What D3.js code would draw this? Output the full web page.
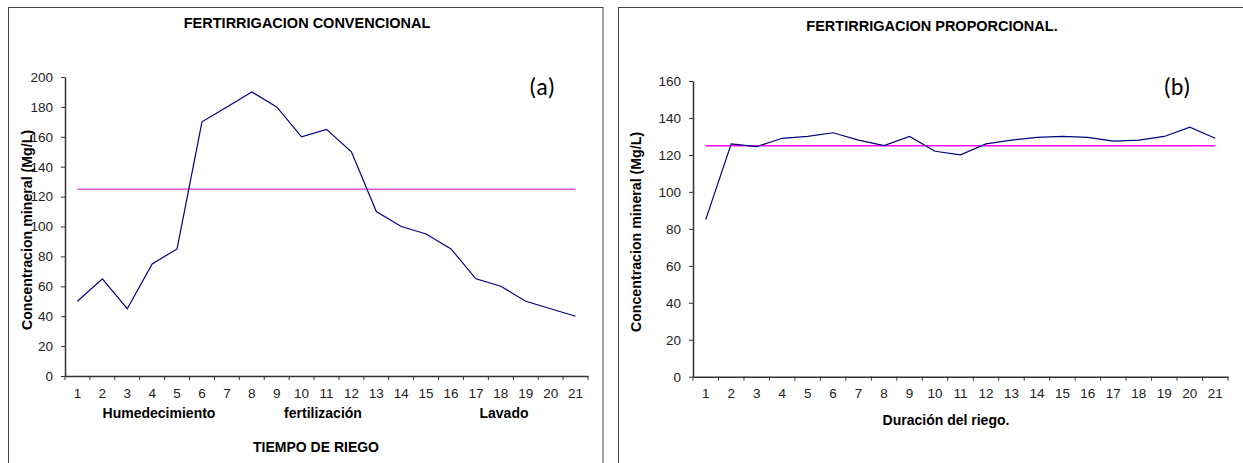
<!DOCTYPE html>
<html>
<head>
<meta charset="utf-8">
<script src="https://cdn.jsdelivr.net/npm/d3@7"></script>
<style>
  body { margin: 0; background: #fff; }
  svg { display: block; font-family: "Liberation Sans", Arial, sans-serif; }
</style>
</head>
<body>
<svg id="chart" width="1243" height="463"></svg>
<script>
// riego steps 1..21
var riegos = ["1","2","3","4","5","6","7","8","9","10","11","12","13","14","15","16","17","18","19","20","21"]
var convencional = [50,65,45,75,85,170,180,190,180,160,165,150,110,100,95,85,65,60,50,45,40]
var proporcional = [85,126,124.5,129,130,132,128,125,130,122,120,126,128,129.5,130,129.5,127.5,128,130,135,129]
var referencia = 125
var ticksA = [0,20,40,60,80,100,120,140,160,180,200]
var ticksB = [0,20,40,60,80,100,120,140,160]
var fasesA = [{name: "Humedecimiento", cx: 159}, {name: "fertilización", cx: 323}, {name: "Lavado", cx: 504}]

var svg = d3.select("#chart")

// panel frames
svg.append("rect").attr("x", 8.5).attr("y", 7.5).attr("width", 594.5).attr("height", 470)
  .attr("fill", "none").attr("stroke", "#444").attr("stroke-width", 1)
svg.append("rect").attr("x", 618.5).attr("y", 7.5).attr("width", 640).attr("height", 470)
  .attr("fill", "none").attr("stroke", "#444").attr("stroke-width", 1)

function draw_panel(opt)
{
	var g = svg.append("g")

	var x = d3.scaleBand().domain(riegos).range([opt.left, opt.right])
	var y = d3.scaleLinear().domain([0, opt.ymax]).range([opt.bottom, opt.top])

	// y axis
	var ya = g.append("g")
	  .attr("transform", "translate(" + opt.left + ",0)")
	  .call(d3.axisLeft(y).tickValues(opt.ticks).tickSize(4).tickPadding(8).tickSizeOuter(0))
	ya.select(".domain").attr("stroke", "#333").attr("stroke-width", 1.5)
	ya.selectAll(".tick line").attr("stroke", "#333")
	ya.selectAll("text").attr("font-size", 13.5).attr("fill", "#222")
	  .attr("font-family", "Liberation Sans, Arial, sans-serif")

	// x axis: labels centered, ticks at category boundaries
	var xa = g.append("g")
	  .attr("transform", "translate(0," + opt.bottom + ")")
	  .call(d3.axisBottom(x).tickSize(0).tickPadding(12))
	xa.select(".domain").attr("stroke", "#333").attr("stroke-width", 1.5)
	xa.selectAll("text").attr("font-size", 13.5).attr("fill", "#222")
	  .attr("font-family", "Liberation Sans, Arial, sans-serif")
	var bounds = riegos.map(function(d) { return x(d) }).concat([x.range()[1]])
	g.selectAll(".bt").data(bounds).enter().append("line")
	  .attr("x1", function(d) { return d }).attr("x2", function(d) { return d })
	  .attr("y1", opt.bottom).attr("y2", opt.bottom + 4)
	  .attr("stroke", "#333").attr("stroke-width", 1)

	// reference line
	g.append("line")
	  .attr("x1", x(riegos[0]) + x.bandwidth() / 2)
	  .attr("x2", x(riegos[riegos.length - 1]) + x.bandwidth() / 2)
	  .attr("y1", y(referencia)).attr("y2", y(referencia))
	  .attr("stroke", opt.refColor).attr("stroke-width", opt.refWidth)

	// series
	var line = d3.line()
	  .x(function(d, i) { return x(riegos[i]) + x.bandwidth() / 2 })
	  .y(function(d) { return y(d) })
	g.append("path").datum(opt.data).attr("d", line)
	  .attr("fill", "none").attr("stroke", "#000080").attr("stroke-width", 1.2)

	// titles
	g.append("text").attr("x", opt.titleX).attr("y", opt.titleY)
	  .attr("text-anchor", "middle").attr("font-size", 14.5).attr("font-weight", "bold")
	  .text(opt.title)
	g.append("text").attr("x", opt.tagX).attr("y", 95)
	  .attr("text-anchor", "middle").attr("font-size", 24)
	  .attr("font-family", "Carlito, 'Open Sans', sans-serif")
	  .text(opt.tag)
	g.append("text")
	  .attr("transform", "translate(" + opt.ylabX + "," + opt.ylabY + ") rotate(-90)")
	  .attr("text-anchor", "middle").attr("font-size", 14.2).attr("font-weight", "bold")
	  .text("Concentracion mineral (Mg/L)")
	return g
}

var ga = draw_panel({left: 65, right: 588, top: 77, bottom: 376, ymax: 200, ticks: ticksA,
	data: convencional, refColor: "#cc00cc", refWidth: 1,
	title: "FERTIRRIGACION CONVENCIONAL", titleX: 307, titleY: 28,
	tag: "(a)", tagX: 542, ylabX: 32, ylabY: 230})

ga.selectAll(".fase").data(fasesA).enter().append("text")
  .attr("x", function(d) { return d.cx }).attr("y", 418)
  .attr("text-anchor", "middle").attr("font-size", 14).attr("font-weight", "bold")
  .text(function(d) { return d.name })
ga.append("text").attr("x", 316).attr("y", 452)
  .attr("text-anchor", "middle").attr("font-size", 14).attr("font-weight", "bold")
  .text("TIEMPO DE RIEGO")

var gb = draw_panel({left: 693, right: 1228, top: 81, bottom: 376.7, ymax: 160, ticks: ticksB,
	data: proporcional, refColor: "#ff00ff", refWidth: 1.5,
	title: "FERTIRRIGACION PROPORCIONAL.", titleX: 932, titleY: 31,
	tag: "(b)", tagX: 1177, ylabX: 641, ylabY: 232})

gb.append("text").attr("x", 946).attr("y", 425)
  .attr("text-anchor", "middle").attr("font-size", 14).attr("font-weight", "bold")
  .text("Duración del riego.")
</script>
</body>
</html>
